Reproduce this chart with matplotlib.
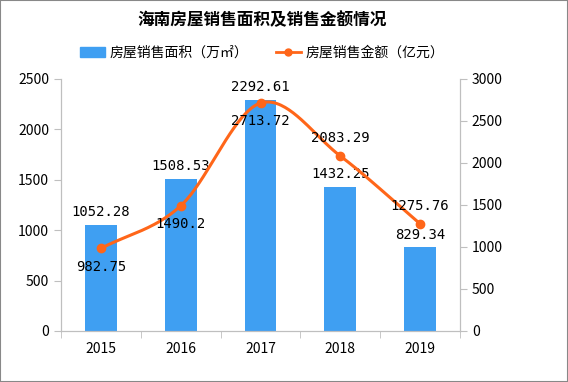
import matplotlib
matplotlib.use("Agg")
import matplotlib.pyplot as plt
import numpy as np
from matplotlib.patches import Rectangle, Patch
from matplotlib.lines import Line2D

plt.rcParams['font.family'] = ['Noto Sans CJK SC', 'DejaVu Sans']

years = ['2015', '2016', '2017', '2018', '2019']
area = [1052.28, 1508.53, 2292.61, 1432.25, 829.34]
amount = [982.75, 1490.2, 2713.72, 2083.29, 1275.76]
amount_labels = ['982.75', '1490.2', '2713.72', '2083.29', '1275.76']
area_labels = ['1052.28', '1508.53', '2292.61', '1432.25', '829.34']

bar_color = '#3F9FF2'
line_color = '#FF6619'

W, H = 568, 382
fig = plt.figure(figsize=(W / 100, H / 100), dpi=100)
ax = fig.add_axes([61 / W, 1 - 331 / H, (460 - 61) / W, (331 - 79) / H])
ax2 = ax.twinx()

x = np.arange(len(years))
ax.bar(x, area, width=0.4, color=bar_color, zorder=2)
ax.set_xlim(-0.5, 4.5)
ax.set_ylim(0, 2500)
ax.set_yticks(np.arange(0, 2501, 500))
ax2.set_ylim(0, 3000)
ax2.set_yticks(np.arange(0, 3001, 500))

# Catmull-Rom smooth curve through the data points
def catmull(xs, ys, n=40):
    px = np.concatenate([[2 * xs[0] - xs[1]], xs, [2 * xs[-1] - xs[-2]]])
    py = np.concatenate([[2 * ys[0] - ys[1]], ys, [2 * ys[-1] - ys[-2]]])
    ox, oy = [], []
    for i in range(1, len(px) - 2):
        t = np.linspace(0, 1, n)
        for arr, out in ((px, ox), (py, oy)):
            p0, p1, p2, p3 = arr[i - 1], arr[i], arr[i + 1], arr[i + 2]
            out.extend(0.5 * ((2 * p1) + (-p0 + p2) * t + (2 * p0 - 5 * p1 + 4 * p2 - p3) * t ** 2
                              + (-p0 + 3 * p1 - 3 * p2 + p3) * t ** 3))
    return np.array(ox), np.array(oy)

sx, sy = catmull(x.astype(float), np.array(amount, dtype=float))
ax2.plot(sx, sy, color=line_color, lw=2.2, zorder=3)
ax2.plot(x, amount, 'o', color=line_color, ms=6, zorder=4)

num_font = dict(family=['DejaVu Sans Mono', 'DejaVu Sans'], fontsize=10, color='#000000')
for i in range(len(years)):
    ax.annotate(area_labels[i], (x[i], area[i]), xytext=(0, 4), textcoords='offset points',
                ha='center', va='bottom', **num_font, zorder=5)
    off = -8 if i < 3 else 8
    va = 'top' if i < 3 else 'bottom'
    ax2.annotate(amount_labels[i], (x[i], amount[i]), xytext=(0, off), textcoords='offset points',
                 ha='center', va=va, **num_font, zorder=5)

for a in (ax, ax2):
    for s in a.spines.values():
        s.set_color('#BFBFBF')
    a.spines['top'].set_visible(False)
    a.tick_params(axis='y', colors='#BFBFBF', labelcolor='#000000', labelsize=10, length=5)
ax.set_xticks(x)
ax.set_xticklabels(years, fontsize=10)
ax.set_xticks(np.arange(-0.5, 5, 1), minor=True)
ax.tick_params(axis='x', which='major', length=0, pad=8)
ax.tick_params(axis='x', which='minor', length=5, colors='#BFBFBF')
ax2.patch.set_visible(False)

fig.text(262 / W, 1 - 20 / H, '海南房屋销售面积及销售金额情况', ha='center', va='center',
         fontsize=12, fontweight='bold')

handles = [Patch(color=bar_color, label='房屋销售面积（万㎡）'),
           Line2D([0], [0], color=line_color, lw=2, marker='o', ms=5, label='房屋销售金额（亿元）')]
fig.legend(handles=handles, loc='center', bbox_to_anchor=(262 / W, 1 - 53 / H), ncol=2,
           frameon=False, fontsize=10, handlelength=1.8, columnspacing=2.0, handletextpad=0.3)

fig.patches.append(Rectangle((0, 0), 1, 1, transform=fig.transFigure, fill=False,
                             edgecolor='#888888', lw=1.5))
fig.savefig('out.png', dpi=100)
